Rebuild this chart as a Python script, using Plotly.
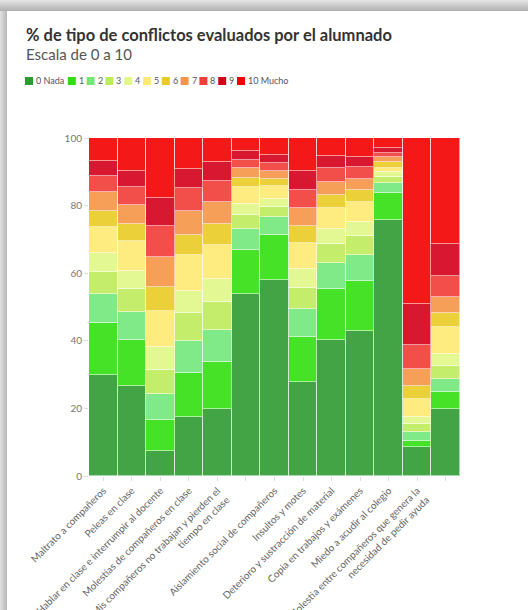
import plotly.graph_objects as go

# Conflict types (two of the columns carry no visible label)
categories = [
    "Maltrato a compañeros",
    "Peleas en clase",
    "Hablar en clase e interrumpir al docente",
    "Molestias de compañeros en clase",
    "Mis compañeros no trabajan y pierden el<br>tiempo en clase",
    "",
    "Aislamiento social de compañeros",
    "Insultos y motes",
    "Deterioro y sustracción de material",
    "Copia en trabajos y exámenes",
    "Miedo a acudir al colegio",
    "Molestia entre compañeros que genera la<br>necesidad de pedir ayuda",
    "",
]

level_names = ["0 Nada", "1", "2", "3", "4", "5", "6", "7", "8", "9", "10 Mucho"]

# Percentage of answers per level, one list per level
nivel_0 = [30.0, 26.5, 7.4, 17.4, 19.8, 53.8, 58.1, 27.8, 40.3, 42.8, 75.8, 8.7, 19.9]
nivel_1 = [15.4, 13.8, 9.2, 13.2, 14.0, 13.0, 13.1, 13.4, 14.9, 14.9, 7.8, 1.8, 5.1]
nivel_2 = [8.4, 8.3, 7.7, 9.2, 9.5, 6.2, 5.3, 8.1, 7.8, 7.6, 3.0, 2.5, 3.8]
nivel_3 = [6.7, 6.7, 7.1, 8.3, 8.3, 4.2, 3.1, 6.4, 5.7, 5.6, 1.9, 2.3, 3.7]
nivel_4 = [5.5, 5.5, 6.8, 6.7, 6.8, 3.2, 2.5, 5.5, 4.5, 4.3, 1.4, 2.3, 3.7]
nivel_5 = [7.7, 8.8, 10.7, 10.5, 9.9, 5.1, 3.6, 7.7, 6.2, 5.8, 1.2, 5.3, 7.9]
nivel_6 = [4.8, 5.0, 7.0, 6.0, 6.2, 2.6, 2.3, 5.2, 3.8, 3.5, 1.9, 3.6, 4.1]
nivel_7 = [5.4, 5.6, 9.0, 7.1, 6.7, 2.9, 2.2, 5.3, 3.9, 3.5, 1.3, 5.2, 4.7]
nivel_8 = [5.0, 5.4, 9.1, 6.8, 6.2, 2.6, 2.3, 5.3, 4.0, 3.3, 1.2, 7.2, 6.4]
nivel_9 = [4.4, 4.7, 8.3, 5.6, 5.6, 2.5, 2.6, 5.6, 3.6, 3.2, 1.5, 11.9, 9.2]
nivel_10 = [6.7, 9.7, 17.7, 9.2, 7.0, 3.9, 4.9, 9.7, 5.3, 5.5, 3.0, 49.2, 31.5]

levels = [nivel_0, nivel_1, nivel_2, nivel_3, nivel_4, nivel_5,
          nivel_6, nivel_7, nivel_8, nivel_9, nivel_10]

colors = ["#2e9b31", "#31df10", "#72e87b", "#bdec5c", "#e1f888", "#feea74",
          "#eacb24", "#f49548", "#f13d38", "#d4001b", "#f40000"]

y_ticks = [0, 20, 40, 60, 80, 100]

W, H = 528, 610
ML, MR, MT, MB = 89, 68, 138, 134
PW, PH = W - ML - MR, H - MT - MB


def xp(px):
    return (px - ML) / PW


def yp(py):
    return (H - MB - py) / PH


x_pos = list(range(len(categories)))

fig = go.Figure()
for name, vals, col in zip(level_names, levels, colors):
    fig.add_trace(go.Bar(
        x=x_pos, y=vals, name=name,
        marker=dict(color=col, line=dict(color="rgba(255,255,255,0.55)", width=1)),
        opacity=0.9,
        showlegend=False,
        hovertemplate="%{y:.1f}%<extra>" + name + "</extra>",
    ))

shapes = []
# card shadow along the top and left edges
top_shades = [226, 222, 218, 213, 208, 203, 198, 193, 188, 183, 178]
for i, g in enumerate(top_shades):
    shapes.append(dict(type="rect", xref="paper", yref="paper",
                       x0=xp(0), x1=xp(W), y0=yp(i + 1), y1=yp(i),
                       line=dict(width=0), fillcolor=f"rgb({g},{g},{g})", layer="above"))
left_shades = [222, 216, 210, 204, 198, 192, 186]
for i, g in enumerate(left_shades):
    shapes.append(dict(type="rect", xref="paper", yref="paper",
                       x0=xp(i), x1=xp(i + 1), y0=yp(H), y1=yp(11),
                       line=dict(width=0), fillcolor=f"rgb({g},{g},{g})", layer="above"))

annotations = [
    dict(text="<b>% de tipo de conflictos evaluados por el alumnado</b>",
         xref="paper", yref="paper", x=xp(24), y=yp(34.5), xanchor="left", yanchor="middle",
         showarrow=False, font=dict(family="Lato", size=16.5, color="#333333")),
    dict(text="Escala de 0 a 10",
         xref="paper", yref="paper", x=xp(24), y=yp(54), xanchor="left", yanchor="middle",
         showarrow=False, font=dict(family="Lato", size=15, color="#555555")),
]

# compact legend row
lx = 25
for name, col in zip(level_names, colors):
    shapes.append(dict(type="rect", xref="paper", yref="paper",
                       x0=xp(lx), x1=xp(lx + 8), y0=yp(85), y1=yp(77),
                       line=dict(width=0), fillcolor=col, layer="above"))
    annotations.append(dict(text=name, xref="paper", yref="paper",
                            x=xp(lx + 9), y=yp(81), xanchor="left", yanchor="middle",
                            showarrow=False,
                            font=dict(family="Lato", size=9, color="#555555")))
    lx += 14 + 4.8 * len(name)

fig.update_layout(
    width=W, height=H,
    margin=dict(l=ML, r=MR, t=MT, b=MB, autoexpand=False),
    barmode="stack", bargap=0,
    paper_bgcolor="white", plot_bgcolor="white",
    font=dict(family="Lato", color="#666666"),
    shapes=shapes, annotations=annotations,
    showlegend=False,
    xaxis=dict(
        tickmode="array", tickvals=x_pos, ticktext=categories,
        tickangle=-45, range=[-0.5, len(categories) - 0.5],
        ticks="outside", ticklen=4, tickcolor="#dddddd",
        tickfont=dict(family="Lato", size=10, color="#666666"),
        showgrid=False, zeroline=False, showline=False, automargin=False,
    ),
    yaxis=dict(
        range=[0, 100], tickvals=y_ticks,
        ticks="outside", ticklen=4, tickcolor="#dddddd",
        tickfont=dict(family="Lato", size=10, color="#777777"),
        showgrid=False, zeroline=False, showline=False, automargin=False,
    ),
)

fig.write_html("out.html")
